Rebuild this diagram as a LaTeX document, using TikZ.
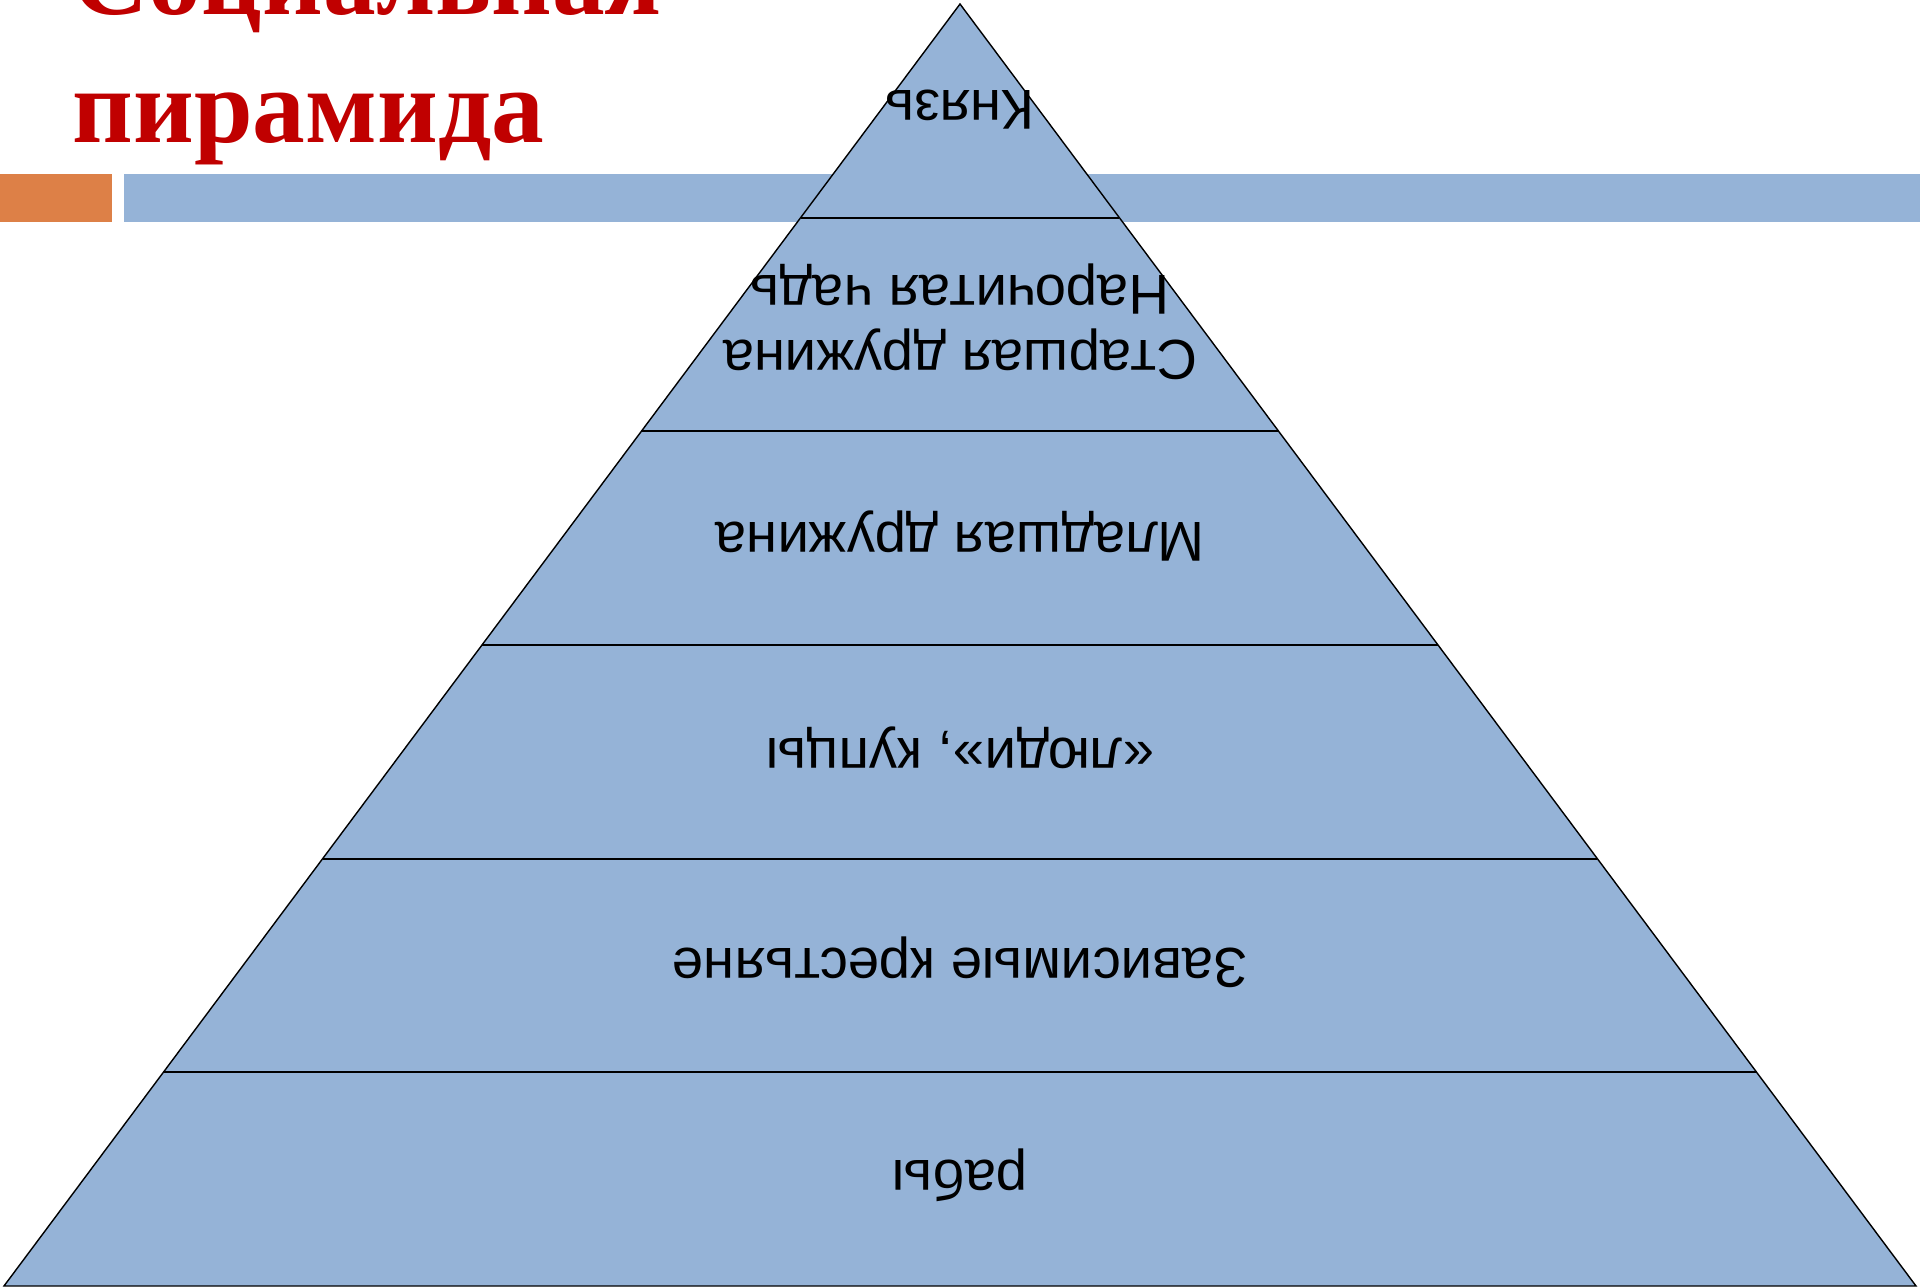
\documentclass[tikz,border=0pt]{standalone}
\usepackage{fontspec}
\setmainfont{Liberation Sans}
\newfontfamily\titlefont{Liberation Serif}
\definecolor{barblue}{HTML}{95B3D7}
\definecolor{barorange}{HTML}{DD8047}
\definecolor{titlered}{HTML}{C00000}
\tikzset{
  layer/.style = {rotate=180, align=center, inner sep=0pt,
                  font=\fontsize{16}{18.4}\selectfont},
  title/.style = {anchor=base west, text=titlered, inner sep=0pt,
                  font=\titlefont\bfseries\fontsize{30}{36}\selectfont},
  edge/.style  = {line width=0.4pt},
  cut/.style   = {line width=0.6pt},
}

\begin{document}
\begin{tikzpicture}[x=0.1mm, y=-0.1mm]
  \useasboundingbox (0,0) rectangle (1920,1287);
  \clip (0,0) rectangle (1920,1287);
  % header bars
  \fill[barorange] (0,174) rectangle (112,222);
  \fill[barblue] (124,174) rectangle (1920,222);
  % title
  \node[title] (title1) at (72,15) {Социальная};
  \node[title] (title2) at (72,143) {пирамида};
  % pyramid
  \coordinate (apex) at (960,4);
  \coordinate (bl) at (4,1286);
  \coordinate (br) at (1916,1286);
  \fill[barblue] (apex) -- (bl) -- (br) -- cycle;
  \foreach \k in {1,...,5}{
    \pgfmathsetmacro\yy{4+\k*213.67}
    \pgfmathsetmacro\hw{\k*159.33}
    \coordinate (l\k) at (960-\hw,\yy);
    \coordinate (r\k) at (960+\hw,\yy);
    \draw[cut] (l\k) -- (r\k);
  }
  \draw[edge] (apex) -- (bl) -- (br) -- cycle;
  % labels, upside down
  \node[layer] (prince)   at (960,110)  {Князь};
  \node[layer] (elder)    at (960,322)  {Старшая дружина\\Нарочитая чадь};
  \node[layer] (younger)  at (960,536)  {Младшая дружина};
  \node[layer] (people)   at (960,748)  {«люди», купцы};
  \node[layer] (peasants) at (960,962)  {Зависимые крестьяне};
  \node[layer] (slaves)   at (960,1175) {рабы};
\end{tikzpicture}
\end{document}
